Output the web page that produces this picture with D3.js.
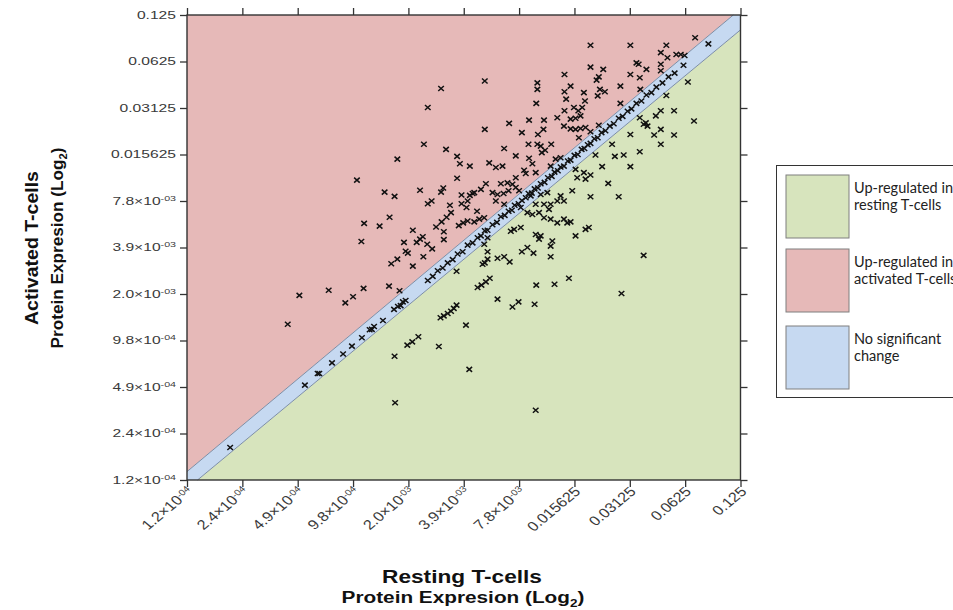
<!DOCTYPE html>
<html>
<head>
<meta charset="utf-8">
<script src="https://cdn.jsdelivr.net/npm/d3@7"></script>
<style>
  body { margin: 0; background: #fff; }
  svg { display: block; }
</style>
</head>
<body>
<svg width="953" height="610"></svg>
<script>
(function () {

  // axis ticks, in log2 units, with the labels printed on the chart
  var tickLog2 = [-13, -12, -11, -10, -9, -8, -7, -6, -5, -4, -3]
  var tickLabels = ['1.2×10^-04', '2.4×10^-04', '4.9×10^-04', '9.8×10^-04', '2.0×10^-03',
    '3.9×10^-03', '7.8×10^-03', '0.015625', '0.03125', '0.0625', '0.125']

  // proteins up-regulated in activated T-cells (log2 expression)
  var upActResting = [-8.41, -8.65, -8.72, -8.32, -8.12, -8.07, -7.89, -9.20, -9.93, -8.12, -9.43, -9.25, -8.79, -8.37, -8.41, -8.04, -7.84, -7.89, -8.65, -8.58,
    -8.25, -8.04, -7.95, -7.76, -8.23, -8.31, -8.40, -8.50, -8.09, -8.01, -7.81, -9.34, -9.80, -9.52, -8.36, -8.92, -8.79, -8.74, -8.85, -8.66,
    -9.85, -9.08, -8.36, -8.57, -9.05, -9.01, -9.20, -9.31, -8.92, -8.73, -9.81, -10.44, -10.97, -10.14, -10.00, -9.35, -9.16, -11.18, -3.82, -5.71,
    -4.99, -4.34, -4.44, -4.32, -4.16, -4.08, -4.01, -4.88, -4.84, -4.70, -4.44, -4.44, -5.71, -5.48, -7.62, -6.18, -6.67, -6.67, -6.69, -6.07,
    -6.18, -6.15, -5.83, -5.81, -5.60, -5.56, -5.54, -5.45, -5.58, -5.17, -4.99, -4.82, -4.81, -5.17, -6.18, -6.01, -5.93, -5.86, -5.89, -6.31,
    -6.07, -5.98, -7.18, -6.82, -6.55, -7.62, -6.95, -6.66, -6.56, -6.19, -6.07, -5.98, -5.89, -5.80, -5.71, -5.56, -6.83, -6.67, -6.61, -6.53,
    -6.42, -6.59, -7.27, -7.06, -6.82, -6.76, -6.34, -6.25, -6.43, -5.92, -7.54, -7.30, -7.42, -6.91, -6.88, -6.70, -7.06, -7.21, -7.33, -7.12,
    -7.06, -7.00, -7.81, -7.69, -7.60, -7.48, -7.39, -7.28, -7.19, -7.93, -7.93, -7.42, -7.27, -7.72, -7.63]
  var upActActivated = [-4.58, -4.99, -5.78, -5.89, -6.04, -6.20, -6.25, -6.10, -6.55, -6.51, -6.81, -6.90, -6.77, -6.72, -6.81, -6.87, -6.84, -6.88, -7.06, -7.00,
    -7.09, -7.06, -7.14, -7.22, -7.25, -7.35, -7.45, -7.56, -7.53, -7.47, -7.45, -7.35, -7.48, -7.54, -7.66, -7.63, -7.82, -7.77, -7.89, -7.93,
    -7.87, -7.89, -7.83, -8.03, -8.08, -8.12, -8.25, -8.35, -8.40, -8.20, -8.88, -8.92, -9.03, -9.19, -9.06, -8.83, -8.93, -9.65, -3.49, -3.65,
    -3.65, -3.65, -3.81, -3.92, -3.85, -3.85, -3.87, -4.03, -4.06, -4.17, -4.06, -4.20, -4.12, -4.17, -4.42, -4.28, -4.46, -4.60, -4.90, -4.53,
    -4.65, -4.81, -4.67, -4.85, -4.40, -4.33, -4.60, -4.65, -4.74, -4.53, -4.28, -4.35, -4.60, -4.90, -5.06, -4.99, -5.06, -4.99, -5.17, -5.21,
    -5.24, -5.22, -5.33, -5.26, -5.26, -5.46, -5.53, -5.57, -5.46, -5.39, -5.45, -5.46, -5.44, -5.42, -5.51, -5.37, -5.78, -5.78, -5.82, -5.91,
    -5.78, -5.96, -5.87, -6.03, -6.08, -6.20, -6.10, -6.07, -6.25, -5.64, -6.18, -6.25, -6.28, -6.34, -6.41, -6.39, -6.50, -6.61, -6.63, -6.64,
    -6.71, -6.78, -6.82, -6.75, -6.63, -6.82, -6.86, -6.84, -6.78, -7.00, -7.43, -7.00, -7.07, -7.39, -7.36]

  // proteins up-regulated in resting T-cells
  var upRestResting = [-3.95, -3.84, -4.20, -4.44, -4.53, -4.34, -4.71, -4.68, -4.75, -4.56, -4.44, -4.20, -4.44, -4.82, -4.99, -4.82, -5.11, -5.27, -4.99, -5.50,
    -5.39, -5.20, -5.71, -5.32, -5.62, -5.98, -5.83, -5.71, -5.80, -5.95, -6.04, -6.25, -6.19, -6.31, -6.43, -6.49, -6.61, -6.55, -6.70, -6.85,
    -6.76, -6.64, -6.55, -6.43, -6.31, -6.19, -6.13, -6.07, -7.15, -7.09, -6.97, -6.70, -6.61, -6.64, -6.40, -6.43, -5.98, -5.80, -5.74, -7.57,
    -7.63, -6.85, -6.46, -7.57, -7.66, -7.62, -7.57, -7.39, -7.27, -7.17, -6.95, -6.74, -6.43, -7.75, -7.68, -7.60, -7.53, -7.39, -7.12, -7.01,
    -6.72, -6.69, -6.36, -6.10, -4.75, -5.15, -6.70, -7.96, -7.90, -8.13, -8.42, -8.36, -8.29, -8.23, -8.18, -8.13, -9.02, -8.93, -8.82, -8.45,
    -9.25, -9.24]
  var upRestActivated = [-4.44, -5.28, -5.06, -5.06, -5.17, -4.73, -5.32, -5.39, -5.35, -5.58, -5.46, -5.58, -5.78, -5.21, -5.57, -5.94, -6.01, -6.04, -6.26, -6.26,
    -6.62, -6.91, -6.91, -5.78, -6.01, -6.32, -6.39, -6.44, -6.53, -6.50, -6.78, -6.89, -7.00, -7.00, -7.07, -6.82, -6.86, -7.07, -7.07, -7.25,
    -7.29, -7.25, -7.36, -7.39, -7.47, -7.39, -7.47, -7.45, -7.65, -7.61, -7.57, -7.72, -7.75, -7.82, -7.86, -7.97, -7.75, -7.61, -7.57, -7.79,
    -7.93, -8.00, -7.18, -8.09, -8.36, -8.33, -8.25, -8.23, -8.20, -8.31, -8.09, -8.12, -8.20, -8.86, -8.81, -8.74, -8.66, -9.11, -9.28, -9.17,
    -9.22, -8.81, -8.79, -8.66, -8.17, -8.99, -11.50, -9.67, -10.62, -8.51, -9.51, -9.47, -9.42, -9.37, -9.31, -9.24, -10.10, -10.03, -9.92, -10.13,
    -10.34, -11.34]

  // proteins with no significant change
  var sameResting = [-12.22, -10.87, -10.64, -10.61, -10.38, -10.18, -10.02, -9.84, -9.70, -9.66, -9.62, -9.46, -9.26, -9.19, -9.14, -9.10, -9.05, -8.65, -8.56, -8.47,
    -8.38, -8.29, -8.20, -8.11, -8.02, -7.93, -7.84, -7.75, -7.69, -7.62, -7.57, -7.48, -7.40, -7.33, -7.26, -7.19, -7.13, -7.08, -7.01, -6.95,
    -6.88, -6.83, -6.77, -6.72, -6.66, -6.61, -6.54, -6.48, -6.41, -6.36, -6.30, -6.25, -6.19, -6.12, -6.07, -6.00, -5.94, -5.87, -5.82, -5.76,
    -5.71, -5.64, -5.58, -5.51, -5.44, -5.36, -5.29, -5.20, -5.13, -5.04, -4.97, -4.88, -4.79, -4.70, -4.61, -4.52, -4.41, -4.30, -4.19, -3.58,
    -6.79, -6.97, -4.03]
  var sameActivated = [-12.30, -10.96, -10.71, -10.71, -10.48, -10.29, -10.12, -9.94, -9.77, -9.76, -9.70, -9.57, -9.33, -9.27, -9.25, -9.17, -9.14, -8.71, -8.62, -8.50,
    -8.44, -8.33, -8.26, -8.14, -8.09, -7.95, -7.90, -7.79, -7.75, -7.64, -7.63, -7.51, -7.46, -7.34, -7.31, -7.22, -7.20, -7.09, -7.06, -6.99,
    -6.93, -6.84, -6.83, -6.74, -6.72, -6.63, -6.60, -6.50, -6.47, -6.38, -6.35, -6.27, -6.25, -6.14, -6.12, -6.02, -6.00, -5.89, -5.87, -5.79,
    -5.76, -5.66, -5.64, -5.53, -5.49, -5.39, -5.34, -5.22, -5.18, -5.07, -5.02, -4.90, -4.85, -4.72, -4.67, -4.55, -4.46, -4.33, -4.25, -3.62,
    -6.89, -7.14, -4.08]

  // edges of the "no significant change" band
  var bandUpper = [[-13, -12.82], [-3.13, -3]]
  var bandLower = [[-12.81, -13], [-3, -3.32]]

  var legendLines = [['Up-regulated in', 'resting T-cells'], ['Up-regulated in', 'activated T-cells'], ['No significant', 'change']]
  var legendColors = ['#d7e4bd', '#e6b9b8', '#c6d9f1']

  var svg = d3.select('svg')
  var left = 187, top = 15, right = 740.5, bottom = 480

  var x = d3.scaleLinear().domain([-13, -3]).range([left, right])
  var y = d3.scaleLinear().domain([-13, -3]).range([bottom, top])

  var line = d3.line().x(d => x(d[0])).y(d => y(d[1]))

  // coloured regions
  var regions = [
    { fill: '#e6b9b8', pts: [bandUpper[0], [-13, -3], bandUpper[1]] },
    { fill: '#d7e4bd', pts: [bandLower[0], bandLower[1], [-3, -13]] },
    { fill: '#c6d9f1', pts: [[-13, -13], bandUpper[0], bandUpper[1], [-3, -3], bandLower[1], bandLower[0]] }
  ]
  svg.selectAll('path.region')
    .data(regions)
    .enter().append('path')
    .attr('class', 'region')
    .attr('d', d => line(d.pts) + 'Z')
    .attr('fill', d => d.fill)

  svg.selectAll('path.edge')
    .data([bandUpper, bandLower])
    .enter().append('path')
    .attr('class', 'edge')
    .attr('d', line)
    .attr('fill', 'none')
    .attr('stroke', '#7d8ea6')
    .attr('stroke-width', 1)

  // points
  var points = []
  upActResting.forEach((v, i) => points.push([v, upActActivated[i]]))
  upRestResting.forEach((v, i) => points.push([v, upRestActivated[i]]))
  sameResting.forEach((v, i) => points.push([v, sameActivated[i]]))

  svg.selectAll('path.pt')
    .data(points)
    .enter().append('path')
    .attr('class', 'pt')
    .attr('transform', d => 'translate(' + x(d[0]) + ',' + y(d[1]) + ')')
    .attr('d', 'M-2.8,-2.5L2.8,2.5M-2.8,2.5L2.8,-2.5')
    .attr('stroke', '#111')
    .attr('stroke-width', 1.5)
    .attr('fill', 'none')

  // frame and ticks
  function styleAxis(g) {
    g.select('.domain').remove()
    g.selectAll('line').attr('stroke', '#333').attr('stroke-width', 1.3)
  }
  svg.append('g').attr('transform', 'translate(' + left + ',0)')
    .call(d3.axisLeft(y).tickValues(tickLog2).tickSize(7).tickFormat('')).call(styleAxis)
  svg.append('g').attr('transform', 'translate(' + right + ',0)')
    .call(d3.axisRight(y).tickValues(tickLog2).tickSize(7).tickFormat('')).call(styleAxis)
  svg.append('g').attr('transform', 'translate(0,' + bottom + ')')
    .call(d3.axisBottom(x).tickValues(tickLog2).tickSize(7).tickFormat('')).call(styleAxis)
  svg.append('g').attr('transform', 'translate(0,' + top + ')')
    .call(d3.axisTop(x).tickValues(tickLog2).tickSize(7).tickFormat('')).call(styleAxis)

  svg.append('rect')
    .attr('x', left).attr('y', top)
    .attr('width', right - left).attr('height', bottom - top)
    .attr('fill', 'none').attr('stroke', '#333').attr('stroke-width', 1.4)

  // tick labels with superscript exponent
  function writeLabel(t, str, supSize) {
    var parts = str.split('^')
    t.append('tspan').text(parts[0])
    if (parts[1]) t.append('tspan').attr('font-size', supSize).attr('dy', -4).text(parts[1])
  }

  svg.selectAll('text.ylab')
    .data(tickLog2)
    .enter().append('text')
    .attr('class', 'ylab')
    .attr('transform', d => 'translate(176,' + y(d) + ') scale(1.42,1)')
    .attr('dy', '0.35em')
    .attr('text-anchor', 'end')
    .attr('font-family', 'Liberation Sans, Arial, sans-serif')
    .attr('font-size', '11px')
    .attr('fill', '#3a3a3a')
    .each(function (d, i) { writeLabel(d3.select(this), tickLabels[i], '7.5px') })

  svg.selectAll('text.xlab')
    .data(tickLog2)
    .enter().append('text')
    .attr('class', 'xlab')
    .attr('transform', d => 'translate(' + (x(d) + 3) + ',489) scale(1.2,1) rotate(-45)')
    .attr('dy', '0.35em')
    .attr('text-anchor', 'end')
    .attr('font-family', 'Liberation Sans, Arial, sans-serif')
    .attr('font-size', '13.5px')
    .attr('fill', '#3a3a3a')
    .each(function (d, i) { writeLabel(d3.select(this), tickLabels[i], '8.5px') })

  // axis titles, stretched to the width seen on the chart
  function title(str, size, sub) {
    var t = svg.append('text')
      .attr('text-anchor', 'middle')
      .attr('font-family', 'Liberation Sans, Arial, sans-serif')
      .attr('font-weight', 'bold')
      .attr('font-size', size + 'px')
      .attr('fill', '#111')
    t.append('tspan').text(str)
    if (sub) {
      t.append('tspan').attr('font-size', (size * 0.65) + 'px').attr('dy', 4).text('2')
      t.append('tspan').attr('dy', -4).text(')')
    }
    return t
  }
  function place(t, tr, target) {
    var k = target / t.node().getComputedTextLength()
    t.attr('transform', tr + ' scale(' + k + ',1)')
  }

  place(title('Resting T-cells', 18), 'translate(462,583)', 160)
  place(title('Protein Expresion (Log', 16, true), 'translate(463,603)', 243)
  place(title('Activated T-cells', 19), 'translate(38,248) rotate(-90)', 154)
  place(title('Protein Expresion (Log', 16, true), 'translate(63,248) rotate(-90)', 201)

  // legend (the frame runs past the right edge, as in the source figure)
  var legend = svg.append('g')
  legend.append('rect')
    .attr('x', 776.5).attr('y', 165.5)
    .attr('width', 200).attr('height', 232)
    .attr('fill', '#fff').attr('stroke', '#333').attr('stroke-width', 1)

  var swatchY = [175, 249, 326]
  var item = legend.selectAll('g.item')
    .data(legendLines)
    .enter().append('g')
    .attr('class', 'item')
    .attr('transform', (d, i) => 'translate(786,' + swatchY[i] + ')')

  item.append('rect')
    .attr('width', 63).attr('height', 63)
    .attr('fill', (d, i) => legendColors[i])
    .attr('stroke', '#7f7f7f').attr('stroke-width', 1)

  item.selectAll('text')
    .data(d => d)
    .enter().append('text')
    .attr('x', 68)
    .attr('y', (d, j) => 18 + j * 17)
    .attr('font-family', 'Lato, sans-serif')
    .attr('font-size', '14.5px')
    .attr('fill', '#222')
    .text(d => d)

})()
</script>
</body>
</html>
